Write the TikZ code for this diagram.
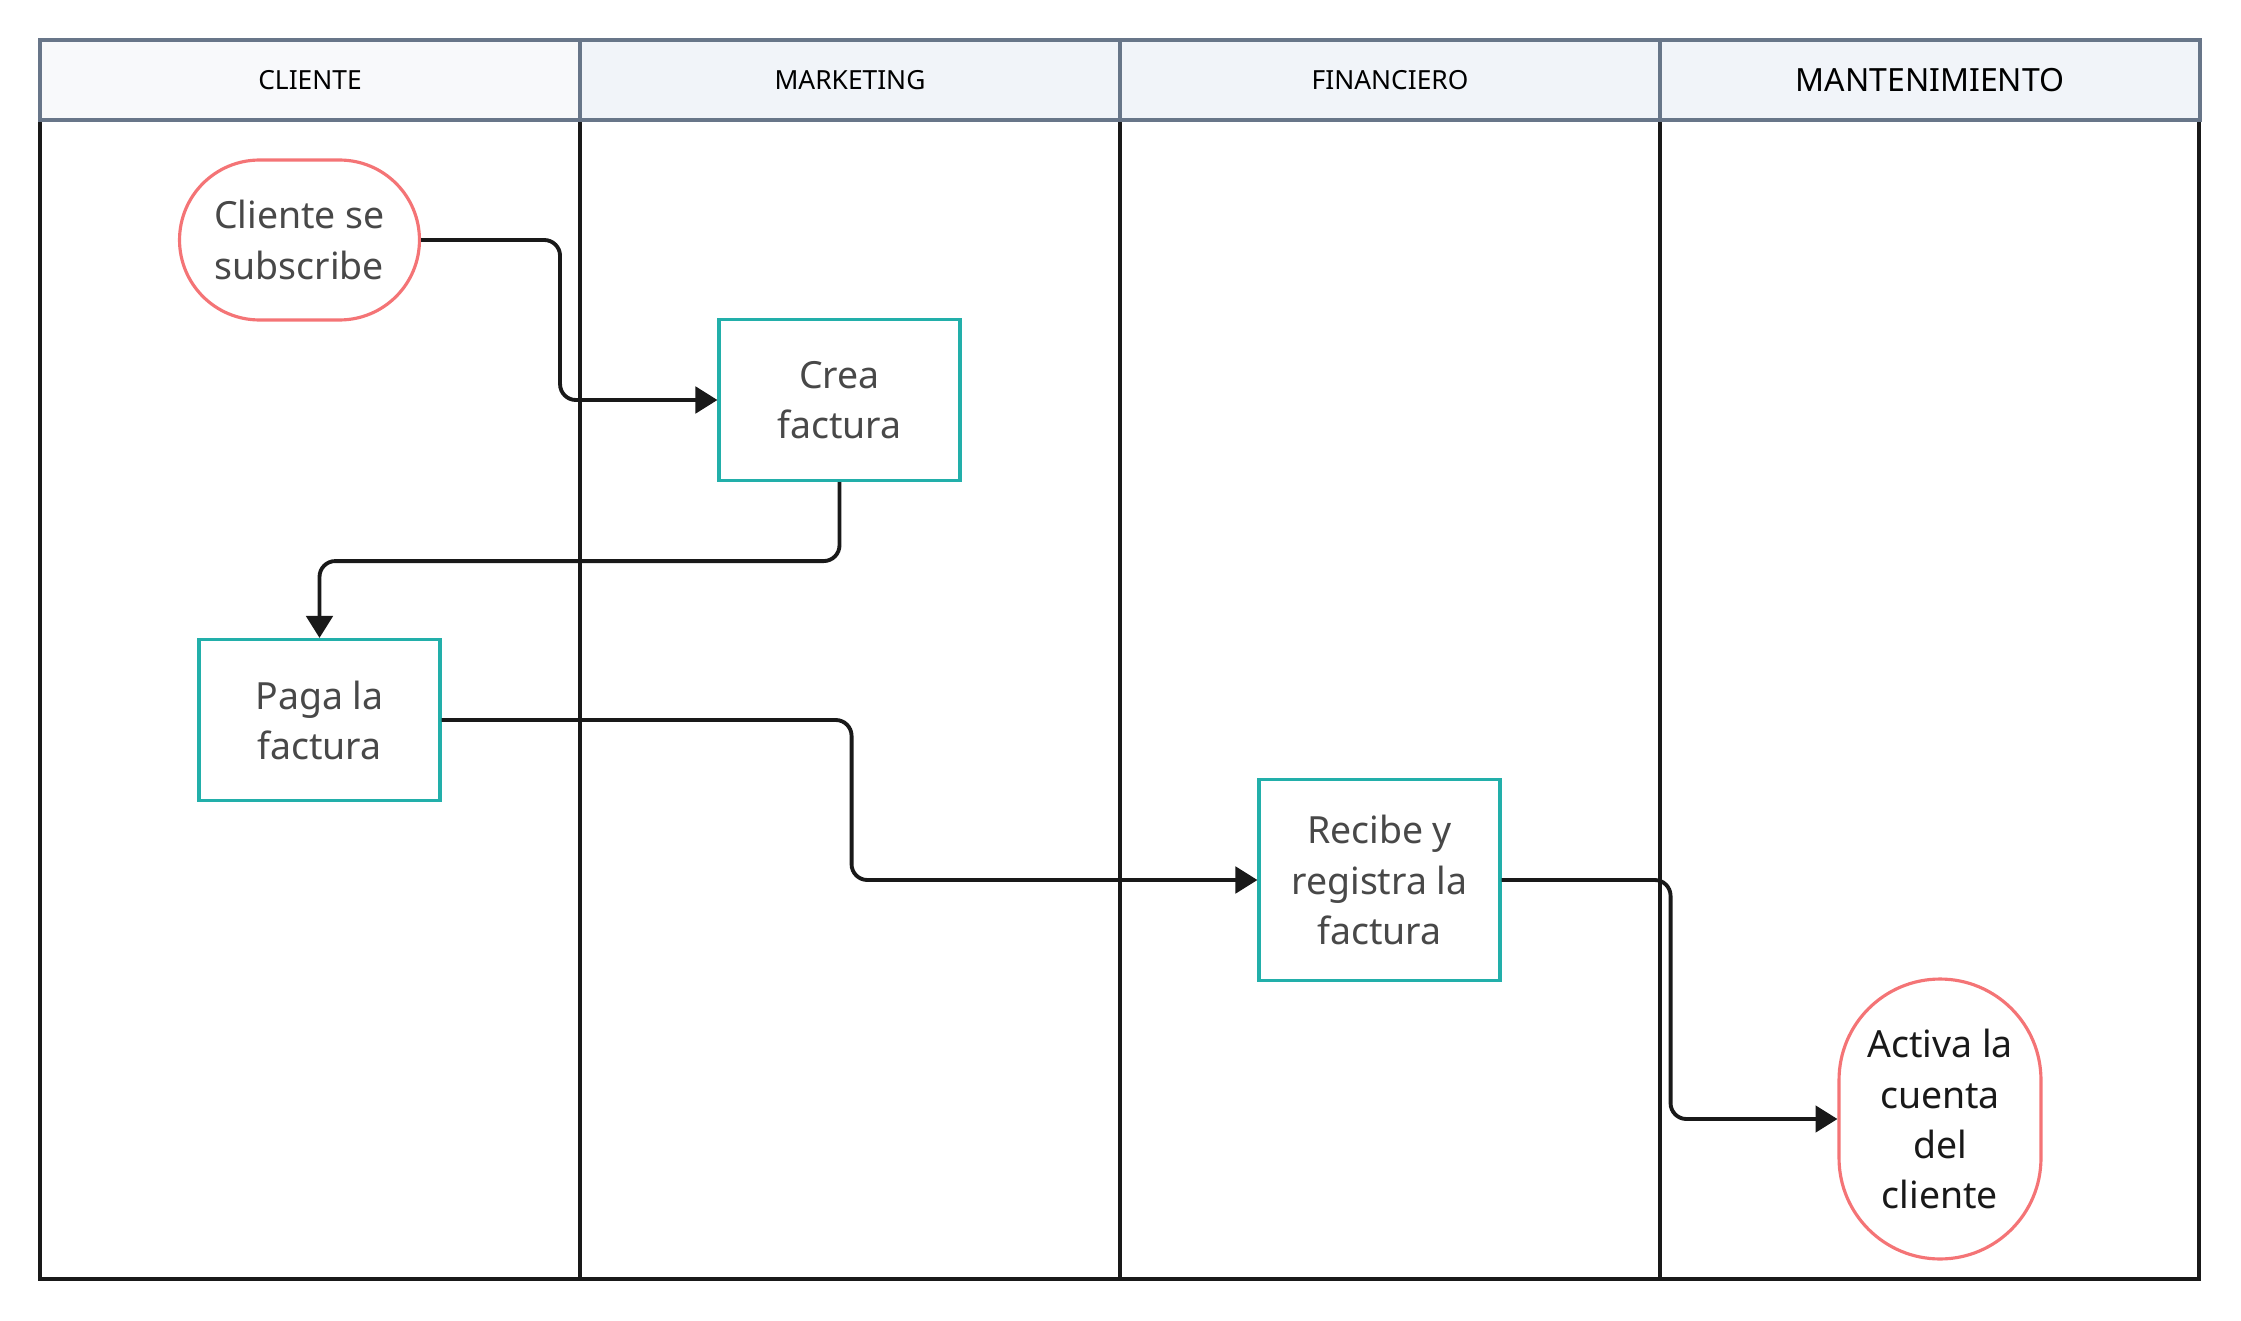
\documentclass[tikz,border=0pt]{standalone}
\usepackage{fontspec}
\setmainfont{Noto Sans}
\usetikzlibrary{arrows.meta}

\definecolor{laneborder}{HTML}{687689}
\definecolor{headfillA}{HTML}{F8F9FB}
\definecolor{headfillB}{HTML}{F1F4F9}
\definecolor{taskteal}{HTML}{22AFAA}
\definecolor{eventred}{HTML}{F47476}
\definecolor{textgray}{HTML}{484848}

\tikzset{
  lanehead/.style={draw=laneborder, line width=1.8pt, minimum width=10.8cm,
    minimum height=1.6cm, inner sep=0pt, font=\fontsize{15}{18}\selectfont},
  lanebody/.style={line width=2.4pt, draw=black!90},
  task/.style={draw=taskteal, fill=white, line width=1.8pt, align=center,
    text=textgray, inner sep=0pt, font=\fontsize{21.3}{28.5}\selectfont},
  event/.style={draw=eventred, fill=white, line width=1.8pt, align=center,
    inner sep=0pt, font=\fontsize{21.3}{28.5}\selectfont},
  flow/.style={line width=2.2pt, draw=black!90, rounded corners=9pt,
    -{Triangle[length=12.5pt, width=15pt]}}
}

\begin{document}
\begin{tikzpicture}[x=0.02cm, y=-0.02cm]
\useasboundingbox (0,0) rectangle (2241,1321);

% Lanes
\draw[lanebody] (40,120) rectangle (2199,1279);
\draw[lanebody] (580,120) -- (580,1279);
\draw[lanebody] (1120,120) -- (1120,1279);
\draw[lanebody] (1660,120) -- (1660,1279);

% Lane headers
\node[lanehead, fill=headfillA] (hCliente) at (310,80) {CLIENTE};
\node[lanehead, fill=headfillB] (hMarketing) at (850,80) {MARKETING};
\node[lanehead, fill=headfillB] (hFinanciero) at (1390,80) {FINANCIERO};
\node[lanehead, fill=headfillB, font=\fontsize{18.2}{22}\selectfont] (hMantenimiento) at (1930,80) {MANTENIMIENTO};

% Steps of the process
\node[event, text=textgray, rounded corners=1.6cm, minimum width=4.8cm, minimum height=3.2cm]
  (subscribe) at (299.5,240) {Cliente se\\subscribe};
\node[task, minimum width=4.82cm, minimum height=3.22cm] (crea) at (839.5,400) {Crea\\factura};
\node[task, minimum width=4.82cm, minimum height=3.22cm] (paga) at (319.5,720) {Paga la\\factura};
\node[task, minimum width=4.82cm, minimum height=4.02cm] (recibe) at (1379.5,880) {Recibe y\\registra la\\factura};
\node[event, text=black!90, rounded corners=2.02cm, minimum width=4.04cm, minimum height=5.6cm]
  (activa) at (1940,1119) {Activa la\\cuenta\\del\\cliente};

% Flow between the steps
\draw[flow] (subscribe.east) -- ++(139,0) |- (crea.west);
\draw[flow] (crea.south) -- ++(0,79) -| (paga.north);
\draw[flow] (paga.east) -- ++(410,0) |- (recibe.west);
\draw[flow] (recibe.east) -- ++(169,0) |- (activa.west);
\end{tikzpicture}
\end{document}
